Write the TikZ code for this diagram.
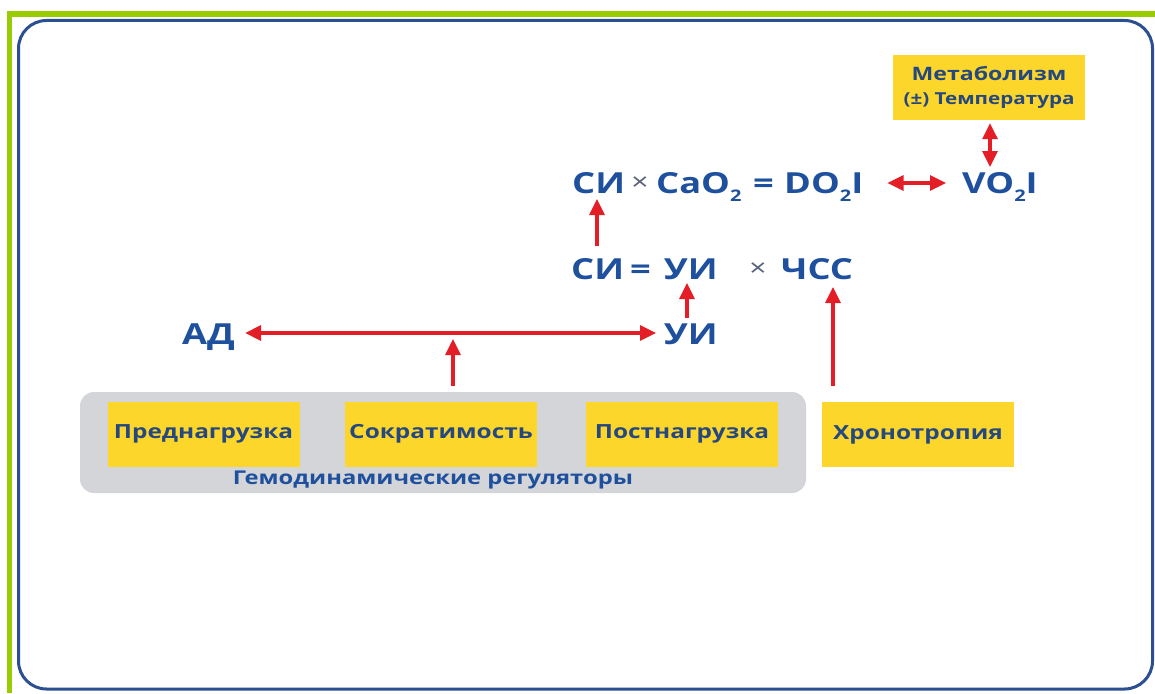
\documentclass[tikz,border=0pt]{standalone}
\usepackage{fontspec}
\setmainfont{Open Sans}
\newfontfamily\wf[FakeStretch=1.25]{Open Sans}
\usetikzlibrary{arrows.meta}
\definecolor{tblue}{RGB}{30,80,158}
\definecolor{lblue}{RGB}{38,72,128}
\definecolor{xgray}{RGB}{90,100,125}
\definecolor{ared}{RGB}{228,30,38}
\definecolor{yel}{RGB}{252,214,42}
\definecolor{gbox}{RGB}{212,213,216}
\definecolor{grn}{RGB}{153,204,0}
\definecolor{bord}{RGB}{43,79,145}
\newcommand{\mysub}[1]{\raisebox{-0.28em}{\fontsize{16}{16}\selectfont #1}}
\tikzset{
  big/.style={font=\wf\bfseries\fontsize{29}{29}\selectfont, text=tblue, inner sep=0pt, anchor=base west},
  tms/.style={font=\wf\fontsize{24}{24}\selectfont, text=xgray, inner sep=0pt},
  ybox/.style={fill=yel, minimum width=192pt, minimum height=65pt, inner sep=0pt,
     font=\wf\bfseries\fontsize{19.5}{19.5}\selectfont, text=lblue},
  arr/.style={draw=ared, line width=3.2pt, -{Triangle[length=16pt,width=15pt]}},
  darr/.style={draw=ared, line width=3.2pt, {Triangle[length=16pt,width=15pt]}-{Triangle[length=16pt,width=15pt]}},
}
\begin{document}
\begin{tikzpicture}[x=1pt,y=-1pt]
\useasboundingbox (0,0) rectangle (1155,693);
\fill[white] (0,0) rectangle (1155,693);
% green frame
\fill[grn] (7,11) rectangle (1155,17);
\fill[grn] (7,11) rectangle (12,693);
% blue rounded border
\draw[bord, line width=3pt, rounded corners=28pt] (18.5,20.5) rectangle (1152.5,689);

% top box
\node[fill=yel, minimum width=192pt, minimum height=65pt, inner sep=0pt, align=center,
      text=lblue, font=\wf\bfseries\fontsize{18.5}{24}\selectfont] (met) at (989,87.5)
      {Метаболизм\\{\fontsize{16.5}{24}\selectfont (±) Температура}};

% row 1
\node[big] (si1) at (572,193) {СИ};
\node[tms] (x1) at (640,184) {×};
\node[big] (cao) at (656,193) {CaO\mysub{2}};
\node[big] (eq1) at (753,193) {=};
\node[big] (do2i) at (784,193) {DO\mysub{2}I};
\node[big] (vo2i) at (962,193) {VO\mysub{2}I};

% row 2
\node[big] (si2) at (571,279) {СИ};
\node[big] (eq2) at (630,279) {=};
\node[big] (ui2) at (664,279) {УИ};
\node[tms] (x2) at (758,270) {×};
\node[big] (chss) at (781,279) {ЧСС};

% row 3
\node[big] (ad) at (182,344) {АД};
\node[big] (ui3) at (664,344) {УИ};

% gray group
\fill[gbox, rounded corners=14pt] (80,392) rectangle (806,493);
\node[ybox] (pre) at (203.5,434) {Преднагрузка};
\node[ybox] (sok) at (441,434) {Сократимость};
\node[ybox] (post) at (682,434) {Постнагрузка};
\node[ybox] (hron) at (918,434.5) {Хронотропия};
\node[font=\wf\bfseries\fontsize{19}{19}\selectfont, text=tblue, inner sep=0pt] (gem) at (433,480) {Гемодинамические регуляторы};

% arrows
\coordinate (mid) at (453,333);
\draw[darr] (met.south -| 990,0) ++(0,3) -- (990,167);
\draw[darr] (do2i.east |- 0,183) ++(24,0) -- (946,183);
\draw[arr] (597,246) -- (597,199);
\draw[arr] (687,318) -- (687,283);
\draw[darr] (ad.east |- mid) ++(10,0) -- (656,333);
\draw[arr] (453,386) -- (mid |- 0,339);
\draw[arr] (833,386) -- (833,287);
\end{tikzpicture}
\end{document}
